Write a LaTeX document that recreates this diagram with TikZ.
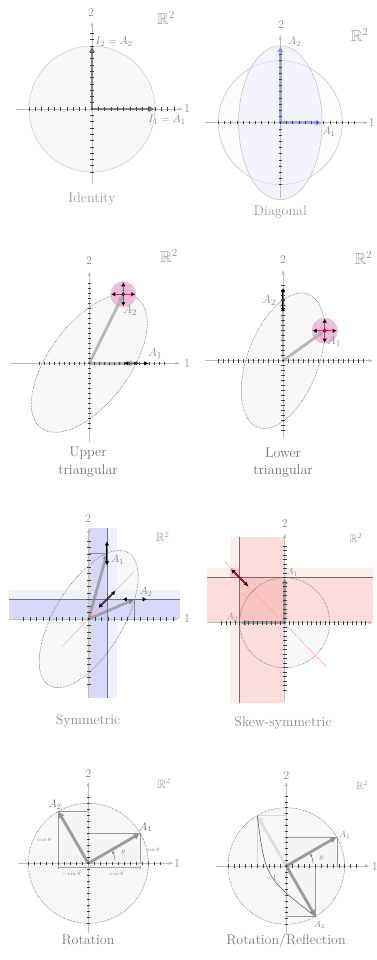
\documentclass[tikz,border=0pt]{standalone}
\usepackage{amssymb}
\usetikzlibrary{arrows.meta}
\definecolor{axc}{HTML}{BDBDBD}
\definecolor{pinkc}{HTML}{EDBEDA}
\definecolor{magc}{HTML}{C2306C}
\definecolor{bluev}{HTML}{8282F4}
\definecolor{ellb}{HTML}{F4F4FF}
\definecolor{bandbl}{HTML}{EFEFFD}
\definecolor{bandbd}{HTML}{D8D8F9}
\definecolor{bandbo}{HTML}{CBCBF6}
\definecolor{bandrl}{HTML}{FDEEEE}
\definecolor{bandrd}{HTML}{FCDCDC}
\definecolor{bandro}{HTML}{F8C4C4}
\definecolor{redln}{HTML}{F23A3A}
\definecolor{blueln}{HTML}{6666F0}
\newcommand\axesxy[4]{%
  \coordinate (xa) at (#1,0); \coordinate (xb) at (#2,0);
  \coordinate (ya) at (0,#3); \coordinate (yb) at (0,#4);
  \draw[axisst] (xa) -- (xb); \draw[axisst] (ya) -- (yb);}
\newcommand\ticksxy[5]{%
  \foreach \i in {#2,...,#3}{\ifnum\i=0\relax\else\draw[tickst] (\i*#1,-1.8) -- (\i*#1,1.8);\fi}
  \foreach \i in {#4,...,#5}{\ifnum\i=0\relax\else\draw[tickst] (-1.8,\i*#1) -- (1.8,\i*#1);\fi}
  \fill[black!85] (0,0) circle (1.2);}
\newcommand\dblarrow[2]{%
  \draw[dblst] ([shift={(#2:12)}]#1) -- ([shift={(#2+180:12)}]#1);
  \draw[dblin] ([shift={(#2:8)}]#1) -- ([shift={(#2+180:8)}]#1);}
\newcommand\mdot[1]{\filldraw[fill=magc, draw=black, line width=0.4pt] (#1) circle (1.6);}
\tikzset{
  axisst/.style={draw=axc, line width=0.6pt, -{Latex[length=4.5pt,width=3.5pt]}},
  tickst/.style={draw=black!75, line width=0.55pt},
  vecst/.style={draw=black!45, draw opacity=0.85, line width=2.8pt, -{Latex[length=6.5pt,width=7pt]}},
  ghostst/.style={draw=black!13, line width=2.8pt, -{Latex[length=6.5pt,width=7pt]}},
  bvecst/.style={draw=bluev, draw opacity=0.6, line width=2.8pt, -{Latex[length=6.5pt,width=7pt]}},
  dblst/.style={draw=black, line width=1.5pt, {Latex[length=4pt,width=4.6pt]}-{Latex[length=4pt,width=4.6pt]}},
  dblin/.style={draw=magc, line width=0.55pt},
  ellfill/.style={fill=black!3},
  ellbord/.style={draw=black!65, line width=0.5pt, dash pattern=on 0.6pt off 0.9pt},
  ellst/.style={ellfill, ellbord},
  guidest/.style={draw=black!45, line width=0.5pt},
  axlbl/.style={text=black!45, font=\fontsize{12}{14}\selectfont, inner sep=0pt},
  vlbl/.style={text=black!45, font=\fontsize{11}{13}\selectfont, inner sep=0pt},
  rrst/.style={text=black!40, inner sep=0pt},
  capst/.style={font=\fontsize{14}{16}\selectfont, inner sep=0pt},
  tinyl/.style={text=black!50, font=\fontsize{4.8}{5}\selectfont, inner sep=0pt},
}
\begin{document}
\begin{tikzpicture}[x=1pt,y=-1pt]
\useasboundingbox (0,0) rectangle (376,960);
\fill[white] (0,0) rectangle (376,960);

% ---------------- Identity
\begin{scope}[shift={(92,109)},yscale=-1]
  \coordinate (O) at (0,0);
  \coordinate (A1) at (63,0); \coordinate (A2) at (0,63);
  \filldraw[fill=black!3, draw=black!22, line width=0.5pt] (O) circle (63);
  \axesxy{-76}{91}{-74}{87}
  \draw[vecst, draw=black!55] (O) -- (A1); \draw[vecst, draw=black!55] (O) -- (A2);
  \ticksxy{6.3}{-10}{13}{-10}{12}
  \node[axlbl] (l1) at (95,0) {1};
  \node[axlbl] (l2) at (-1,96) {2};
  \node[vlbl] (t1) at (75,-11) {$I_1=A_1$};
  \node[vlbl] (t2) at (22,67.5) {$I_2=A_2$};
  \node[rrst, font=\fontsize{16}{18}\selectfont] (rr) at (74,91) {$\mathbb{R}^2$};
\end{scope}
\node[capst, text=black!38] (c1) at (92,199) {Identity};

% ---------------- Diagonal
\begin{scope}[shift={(280.3,122.7)},yscale=-1]
  \coordinate (O) at (0,0);
  \coordinate (A1) at (41.7,0); \coordinate (A2) at (0,77);
  \filldraw[fill=black!1, draw=black!18, line width=0.5pt] (O) circle (62);
  \filldraw[fill=ellb, draw=black!25, line width=0.5pt] (O) ellipse [x radius=41.7, y radius=77];
  \draw[draw=black!18, line width=0.5pt] (O) circle (62);
  \axesxy{-75.3}{87.7}{-75.3}{87.7}
  \draw[bvecst] (O) -- (A1); \draw[bvecst] (O) -- (A2);
  \ticksxy{6.2}{-10}{12}{-10}{11}
  \node[axlbl] (l1) at (91.5,0) {1};
  \node[axlbl] (l2) at (0.7,97.7) {2};
  \node[vlbl] (t1) at (48.7,-9) {$A_1$};
  \node[vlbl] (t2) at (14.2,81) {$A_2$};
  \node[rrst, font=\fontsize{16}{18}\selectfont] (rr) at (79.4,87.7) {$\mathbb{R}^2$};
\end{scope}
\node[capst, text=black!38] (c2) at (280.3,211.7) {Diagonal};

% ---------------- Upper triangular
\begin{scope}[shift={(89.3,363.3)},yscale=-1]
  \coordinate (O) at (0,0);
  \coordinate (A1) at (47,0); \coordinate (A2) at (34,69);
  \draw[ellst] plot[variable=\t, domain=0:360, samples=121] ({47*cos(\t)+34*sin(\t)},{69*sin(\t)}) -- cycle;
  \axesxy{-79.3}{90.7}{-78.3}{91.7}
  \fill[pinkc] (A2) circle (13);
  \draw[vecst, draw=black!32] (O) -- (A2);
  \draw[vecst, draw=black!32] (O) -- (A1);
  \ticksxy{5}{-10}{15}{-13}{16}
  \dblarrow{A2}{0} \dblarrow{A2}{90} \mdot{A2}
  \dblarrow{A1}{0} \mdot{A1}
  \node[axlbl] (l1) at (97.7,0) {1};
  \node[axlbl] (l2) at (-0.3,102.6) {2};
  \node[vlbl, font=\fontsize{12.5}{14}\selectfont] (t1) at (65.7,10.3) {$A_1$};
  \node[vlbl, font=\fontsize{12.5}{14}\selectfont] (t2) at (40.7,53.3) {$A_2$};
  \node[rrst, font=\fontsize{16}{18}\selectfont] (rr) at (79.7,107.3) {$\mathbb{R}^2$};
\end{scope}
\node[capst, text=black!55] (c3a) at (88,453) {Upper};
\node[capst, text=black!55] (c3b) at (88,471) {triangular};

% ---------------- Lower triangular
\begin{scope}[shift={(283,360.7)},yscale=-1]
  \coordinate (O) at (0,0);
  \coordinate (A1) at (41.7,30); \coordinate (A2) at (0,60.7);
  \draw[ellst] plot[variable=\t, domain=0:360, samples=121] ({41.7*cos(\t)},{30*cos(\t)+60.7*sin(\t)}) -- cycle;
  \axesxy{-78.3}{90}{-77.7}{90.7}
  \fill[pinkc] (A1) circle (13);
  \draw[vecst, draw=black!32] (O) -- (A1);
  \draw[vecst, draw=black!32] (O) -- (A2);
  \ticksxy{5}{-13}{16}{-14}{15}
  \dblarrow{A1}{0} \dblarrow{A1}{90} \mdot{A1}
  \dblarrow{A2}{90} \mdot{A2}
  \node[axlbl] (l2) at (0,100.7) {2};
  \node[vlbl, font=\fontsize{12.5}{14}\selectfont] (t1) at (51,19) {$A_1$};
  \node[vlbl, font=\fontsize{12.5}{14}\selectfont] (t2) at (-14,60.7) {$A_2$};
  \node[rrst, font=\fontsize{16}{18}\selectfont] (rr) at (80.7,102.4) {$\mathbb{R}^2$};
\end{scope}
\node[capst, text=black!55] (c4a) at (283,453) {Lower};
\node[capst, text=black!55] (c4b) at (283,471) {triangular};

% ---------------- Symmetric
\begin{scope}[shift={(88.7,619)},yscale=-1]
  \coordinate (O) at (0,0);
  \coordinate (A1) at (18.3,65.7); \coordinate (A2) at (46,19.7);
  \coordinate (D) at (18.3,19.7);
  \fill[ellfill] plot[variable=\t, domain=0:360, samples=121] ({18.3*cos(\t)+46*sin(\t)},{65.7*cos(\t)+19.7*sin(\t)}) -- cycle;
  \fill[bandbl] (0,-79) rectangle (28.4,91);
  \fill[bandbl] (-79.4,0) rectangle (91.7,29);
  \fill[bandbd] (0,-79) rectangle (18.3,91);
  \fill[bandbd] (-79.4,0) rectangle (91.7,19.7);
  \fill[bandbo] (0,0) rectangle (18.3,19.7);
  \fill[blueln] (17.8,-79) rectangle (18.8,91);
  \fill[blueln] (-79.4,19.2) rectangle (91.7,20.2);
  \draw[ellbord] plot[variable=\t, domain=0:360, samples=121] ({18.3*cos(\t)+46*sin(\t)},{65.7*cos(\t)+19.7*sin(\t)}) -- cycle;
  \axesxy{-79.4}{90}{-79}{91}
  \draw[red!35, line width=0.45pt] (-26.7,-27.7) -- (45,47.3);
  \draw[guidest] (0,65.7) -- (A1);
  \draw[guidest] (A2) -- (46,0);
  \draw[vecst, draw=black!50, draw opacity=0.6] (O) -- (A1);
  \draw[vecst, draw=black!50, draw opacity=0.6] (O) -- (A2);
  \ticksxy{6.5}{-10}{13}{-10}{12}
  \dblarrow{A1}{90}
  \dblarrow{A2}{0}
  \dblarrow{D}{45}
  \node[axlbl] (l1) at (98.3,0) {1};
  \node[axlbl] (l2) at (-0.7,100) {2};
  \node[vlbl] (t1) at (28.8,59) {$A_1$};
  \node[vlbl] (t2) at (57.3,27.3) {$A_2$};
  \node[rrst, font=\fontsize{12}{14}\selectfont] (rr) at (74,82.3) {$\mathbb{R}^2$};
\end{scope}
\node[capst, text=black!45] (c5) at (88,721) {Symmetric};

% ---------------- Skew-symmetric
\begin{scope}[shift={(284.7,622.7)},yscale=-1]
  \coordinate (O) at (0,0);
  \coordinate (A1) at (0,45); \coordinate (A2) at (-45,0);
  \coordinate (D) at (-45,45);
  \fill[ellfill] (O) circle (45);
  \fill[bandrl] (-77.4,0) rectangle (88.3,54.4);
  \fill[bandrl] (-55,-80.6) rectangle (0,85.4);
  \fill[bandrd] (-77.4,0) rectangle (88.3,45);
  \fill[bandrd] (-45,-80.6) rectangle (0,85.4);
  \fill[bandro] (-45,0) rectangle (0,45);
  \fill[bandro] (-55,45) rectangle (-45,54.4);
  \fill[redln] (-77.4,44.5) rectangle (88.3,45.5);
  \fill[redln] (-45.5,-80.6) rectangle (-44.5,85.4);
  \draw[ellbord] (O) circle (45);
  \axesxy{-77.4}{88.3}{-77.3}{89.4}
  \draw[red!35, line width=0.45pt] (-60,61) -- (41.7,-44);
  \draw[vecst, draw=black!45, draw opacity=0.7] (O) -- (A1);
  \draw[vecst, draw=black!45, draw opacity=0.7] (O) -- (A2);
  \ticksxy{4.5}{-14}{18}{-15}{17}
  \dblarrow{D}{-45}
  \node[axlbl] (l2) at (0,99.4) {2};
  \node[vlbl, font=\fontsize{9.5}{11}\selectfont] (t1) at (7.8,50.4) {$A_1$};
  \node[vlbl, font=\fontsize{9.5}{11}\selectfont] (t2) at (-52.2,5.4) {$A_2$};
  \node[rrst, font=\fontsize{11}{13}\selectfont] (rr) at (71.3,84.4) {$\mathbb{R}^2$};
\end{scope}
\node[capst, text=black!45] (c6) at (283,723) {Skew-symmetric};

% ---------------- Rotation
\begin{scope}[shift={(88.3,863.3)},yscale=-1]
  \coordinate (O) at (0,0);
  \coordinate (A1) at (51.96,30); \coordinate (A2) at (-30,51.96);
  \draw[ellst] (O) circle (60);
  \filldraw[fill=black!4, draw=black!40, line width=0.6pt] (O) rectangle (A1);
  \filldraw[fill=black!4, draw=black!40, line width=0.6pt] (O) rectangle (A2);
  \axesxy{-70}{85}{-70}{81.6}
  \draw[vecst] (O) -- (A1); \draw[vecst] (O) -- (A2);
  \ticksxy{6}{-10}{12}{-10}{11}
  \draw[guidest, draw=black!35] (-30,-2.5) -- (-30,-5.5);
  \draw[guidest, draw=black!35] (51.96,-2.5) -- (51.96,-5.5);
  \draw[guidest, draw=black!35] (-30,-4) -- (51.96,-4);
  \draw[black!60, line width=0.45pt, -{Stealth[length=2.5pt,width=2.2pt]}] (6:27) arc[start angle=6, end angle=27, radius=27];
  \node[tinyl] (s1) at (-17.3,-10.7) {$-\sin\theta$};
  \node[tinyl] (s2) at (28.4,-10.7) {$\cos\theta$};
  \node[tinyl] (s3) at (-44,24) {$\cos\theta$};
  \node[tinyl] (s4) at (65,13.3) {$\sin\theta$};
  \node[vlbl, font=\fontsize{7.5}{8}\selectfont] (th) at (35,11) {$\theta$};
  \node[axlbl] (l1) at (88.7,0) {1};
  \node[axlbl] (l2) at (0,90) {2};
  \node[vlbl, text=black!55] (t1) at (57.4,36) {$A_1$};
  \node[vlbl, text=black!55] (t2) at (-33.3,58.3) {$A_2$};
  \node[rrst, font=\fontsize{12}{14}\selectfont] (rr) at (75.7,80) {$\mathbb{R}^2$};
\end{scope}
\node[capst, text=black!52] (c7) at (88,940) {Rotation};

% ---------------- Rotation/Reflection
\begin{scope}[shift={(286.3,866)},yscale=-1]
  \coordinate (O) at (0,0);
  \coordinate (A1) at (50.5,29.15); \coordinate (A2) at (29.15,-50.5);
  \coordinate (G) at (-29.15,50.5);
  \coordinate (K) at (-20.8,-12);
  \draw[ellst] (O) circle (58.3);
  \filldraw[fill=black!4, draw=black!40, line width=0.6pt] (O) rectangle (A1);
  \draw[draw=black!15, line width=0.6pt] (O) rectangle (G);
  \filldraw[fill=black!4, draw=black!40, line width=0.6pt] (O) rectangle (A2);
  \axesxy{-70}{83.4}{-69}{84.3}
  \draw[ghostst] (O) -- (G);
  \draw[black!70, line width=0.5pt] (G) .. controls (K) .. (A2);
  \draw[vecst] (O) -- (A1); \draw[vecst] (O) -- (A2);
  \ticksxy{5.83}{-10}{12}{-10}{12}
  \draw[black!60, line width=0.45pt, -{Stealth[length=2.5pt,width=2.2pt]}] (6:27) arc[start angle=6, end angle=27, radius=27];
  \node[vlbl, font=\fontsize{7.5}{8}\selectfont] (th) at (35,7.7) {$\theta$};
  \node[vlbl, font=\fontsize{8}{9}\selectfont] (m1) at (-15,-12.3) {$-1$};
  \node[axlbl] (l1) at (88.4,0) {1};
  \node[axlbl] (l2) at (0,91) {2};
  \node[vlbl, font=\fontsize{9}{10}\selectfont] (t1) at (58.4,31) {$A_1$};
  \node[vlbl, font=\fontsize{9}{10}\selectfont] (t2) at (33.4,-59) {$A_2$};
  \node[rrst, font=\fontsize{10}{12}\selectfont] (rr) at (76,81) {$\mathbb{R}^2$};
\end{scope}
\node[capst, text=black!52] (c8) at (286,941) {Rotation/Reflection};
\end{tikzpicture}
\end{document}
